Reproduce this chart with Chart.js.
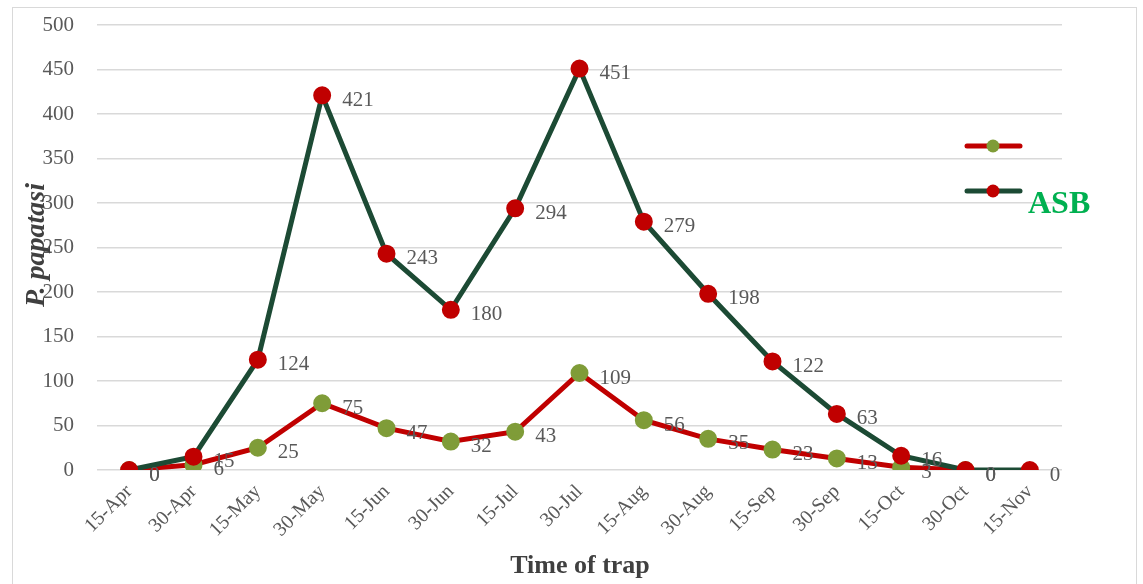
<!DOCTYPE html>
<html>
<head>
<meta charset="utf-8">
<script src="https://cdn.jsdelivr.net/npm/chart.js@4.4.0/dist/chart.umd.min.js"></script>
<style>
  html, body { margin: 0; padding: 0; background: #fff; }
  #wrap { position: relative; width: 1143px; height: 584px; }
  #frame { position: absolute; left: 12px; top: 7px; width: 1125px; height: 590px; border: 1px solid #d9d9d9; box-sizing: border-box; }
  canvas { position: absolute; left: 0; top: 0; }
</style>
</head>
<body>
<div id="wrap">
  <div id="frame"></div>
  <canvas id="trapChart" width="1143" height="584"></canvas>
</div>
<script>
const trapDates = ['15-Apr', '30-Apr', '15-May', '30-May', '15-Jun', '30-Jun', '15-Jul', '30-Jul',
  '15-Aug', '30-Aug', '15-Sep', '30-Sep', '15-Oct', '30-Oct', '15-Nov'];
const asbCounts = [0, 15, 124, 421, 243, 180, 294, 451, 279, 198, 122, 63, 16, 0, 0];
const otherCounts = [0, 6, 25, 75, 47, 32, 43, 109, 56, 35, 23, 13, 3, 0, null];
const yTicks = [0, 50, 100, 150, 200, 250, 300, 350, 400, 450, 500];

const serif = "'Liberation Serif', 'DejaVu Serif', serif";
const ctx = document.getElementById('trapChart').getContext('2d');

// value labels next to every point, plus the y title, x title and legend
const extras = {
  id: 'extras',
  afterDatasetsDraw(chart) {
    const c = chart.ctx;
    c.save();
    c.font = `21px ${serif}`;
    c.fillStyle = '#595959';
    c.textAlign = 'left';
    c.textBaseline = 'middle';
    chart.data.datasets.forEach((ds, i) => {
      chart.getDatasetMeta(i).data.forEach((pt, j) => {
        if (ds.data[j] == null) return;
        c.fillText(String(ds.data[j]), pt.x + 20, pt.y + 5);
      });
    });
    c.restore();
  },
  afterDraw(chart) {
    const c = chart.ctx;
    c.save();
    // y title
    c.translate(37, 245);
    c.rotate(-Math.PI / 2);
    c.font = `italic bold 28px ${serif}`;
    c.fillStyle = '#404040';
    c.textAlign = 'center';
    c.textBaseline = 'middle';
    c.fillText('P. papatasi', 0, 0);
    c.restore();

    c.save();
    c.font = `bold 26px ${serif}`;
    c.fillStyle = '#404040';
    c.textAlign = 'center';
    c.textBaseline = 'middle';
    c.fillText('Time of trap', 580, 566);
    c.restore();

    // legend
    const rows = [{ ds: chart.data.datasets[1], y: 146, text: '' }, { ds: chart.data.datasets[0], y: 191, text: 'ASB' }];
    rows.forEach(r => {
      c.save();
      c.strokeStyle = r.ds.borderColor;
      c.lineWidth = 5;
      c.lineCap = 'round';
      c.beginPath();
      c.moveTo(967, r.y);
      c.lineTo(1020, r.y);
      c.stroke();
      c.fillStyle = r.ds.pointBackgroundColor;
      c.beginPath();
      c.arc(993, r.y, 6.5, 0, Math.PI * 2);
      c.fill();
      if (r.text) {
        c.font = `bold 32px ${serif}`;
        c.fillStyle = '#00b050';
        c.textAlign = 'left';
        c.textBaseline = 'middle';
        c.fillText(r.text, 1028, r.y + 14);
      }
      c.restore();
    });
  }
};

new Chart(ctx, {
  type: 'line',
  data: {
    labels: trapDates,
    datasets: [
      {
        label: 'ASB', data: asbCounts, borderColor: '#1c4a34', borderWidth: 5,
        pointBackgroundColor: '#c00000', pointBorderColor: '#c00000', pointRadius: 6.5, pointHoverRadius: 6.5,
        tension: 0, fill: false
      },
      {
        label: '', data: otherCounts, borderColor: '#c00000', borderWidth: 5,
        pointBackgroundColor: '#7f9c38', pointBorderColor: '#7f9c38', pointRadius: 6.5, pointHoverRadius: 6.5,
        tension: 0, fill: false
      }
    ]
  },
  options: {
    responsive: false,
    animation: false,
    layout: { padding: { left: 0, right: 81, top: 25, bottom: 0 } },
    plugins: { legend: { display: false }, tooltip: { enabled: false } },
    scales: {
      x: {
        offset: true,
        grid: { display: false },
        border: { display: false },
        ticks: { color: '#595959', font: { family: serif, size: 20 }, minRotation: 45, maxRotation: 45, padding: 2 },
        afterFit(scale) { scale.height = 114; scale.paddingLeft = 0; scale.paddingRight = 0; }
      },
      y: {
        min: 0, max: 500,
        afterBuildTicks(scale) { scale.ticks = yTicks.map(v => ({ value: v })); },
        grid: { color: '#d9d9d9', lineWidth: 1.5, drawTicks: false },
        border: { display: false },
        ticks: { color: '#595959', font: { family: serif, size: 21 }, padding: 23 },
        afterFit(scale) { scale.width = 97; scale.paddingTop = 0; scale.paddingBottom = 0; }
      }
    }
  },
  plugins: [extras]
});
</script>
</body>
</html>
